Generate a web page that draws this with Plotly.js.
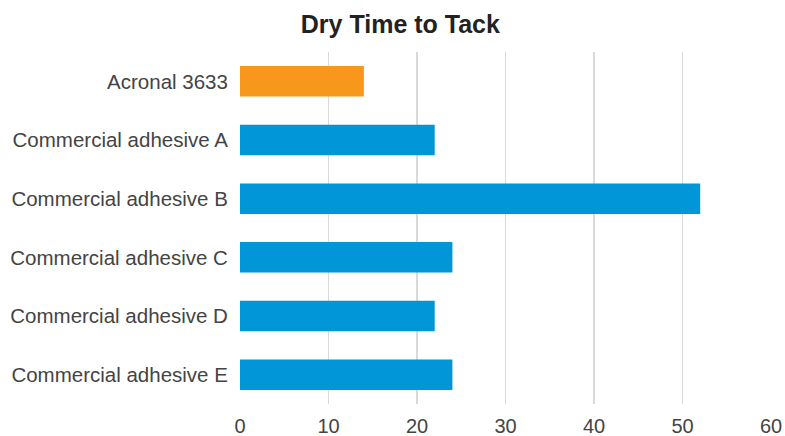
<!DOCTYPE html>
<html>
<head>
<meta charset="utf-8">
<script src="https://cdn.plot.ly/plotly-3.0.1.min.js"></script>
<style>html,body{margin:0;padding:0;background:#fff;}#chart{width:785px;height:436px;}</style>
</head>
<body>
<div id="chart"></div>
<script>
const categories = ["Acronal 3633", "Commercial adhesive A", "Commercial adhesive B", "Commercial adhesive C", "Commercial adhesive D", "Commercial adhesive E"];
const dryTimeValues = [14, 22, 52, 24, 22, 24];
const xTickValues = [0, 10, 20, 30, 40, 50, 60];
const highlightCategory = "Acronal 3633";

const HIGHLIGHT = "#F7981D";
const BASE = "#0096D8";
const FONT = "Liberation Sans, Helvetica Neue, Arial, sans-serif";

const trace = {
  type: "bar",
  orientation: "h",
  y: categories,
  x: dryTimeValues,
  width: 0.52,
  marker: { color: categories.map(c => c === highlightCategory ? HIGHLIGHT : BASE) },
  hoverinfo: "x+y"
};

const layout = {
  width: 785,
  height: 436,
  margin: { l: 240, r: 14, t: 52, b: 32, pad: 0 },
  paper_bgcolor: "#fff",
  plot_bgcolor: "#fff",
  showlegend: false,
  bargap: 0.48,
  title: {
    text: "<b>Dry Time to Tack</b>",
    x: 0.51, xanchor: "center",
    y: 0.945, yanchor: "middle", yref: "container",
    font: { family: FONT, size: 25, color: "#222" }
  },
  xaxis: {
    range: [0, 60],
    tickvals: xTickValues,
    ticktext: xTickValues.map(String),
    showgrid: true,
    gridcolor: "#d9d9d9",
    gridwidth: 1.5,
    zeroline: false,
    showline: false,
    ticks: "outside",
    ticklen: 4,
    tickcolor: "rgba(0,0,0,0)",
    tickfont: { family: FONT, size: 20, color: "#444" },
    fixedrange: true
  },
  yaxis: {
    type: "category",
    categoryorder: "array",
    categoryarray: categories,
    autorange: "reversed",
    showgrid: false,
    zeroline: false,
    showline: false,
    ticks: "outside",
    ticklen: 7,
    tickcolor: "rgba(0,0,0,0)",
    tickfont: { family: FONT, size: 20.5, color: "#444" },
    fixedrange: true
  }
};

Plotly.newPlot("chart", [trace], layout, { displayModeBar: false, staticPlot: true });
</script>
</body>
</html>
